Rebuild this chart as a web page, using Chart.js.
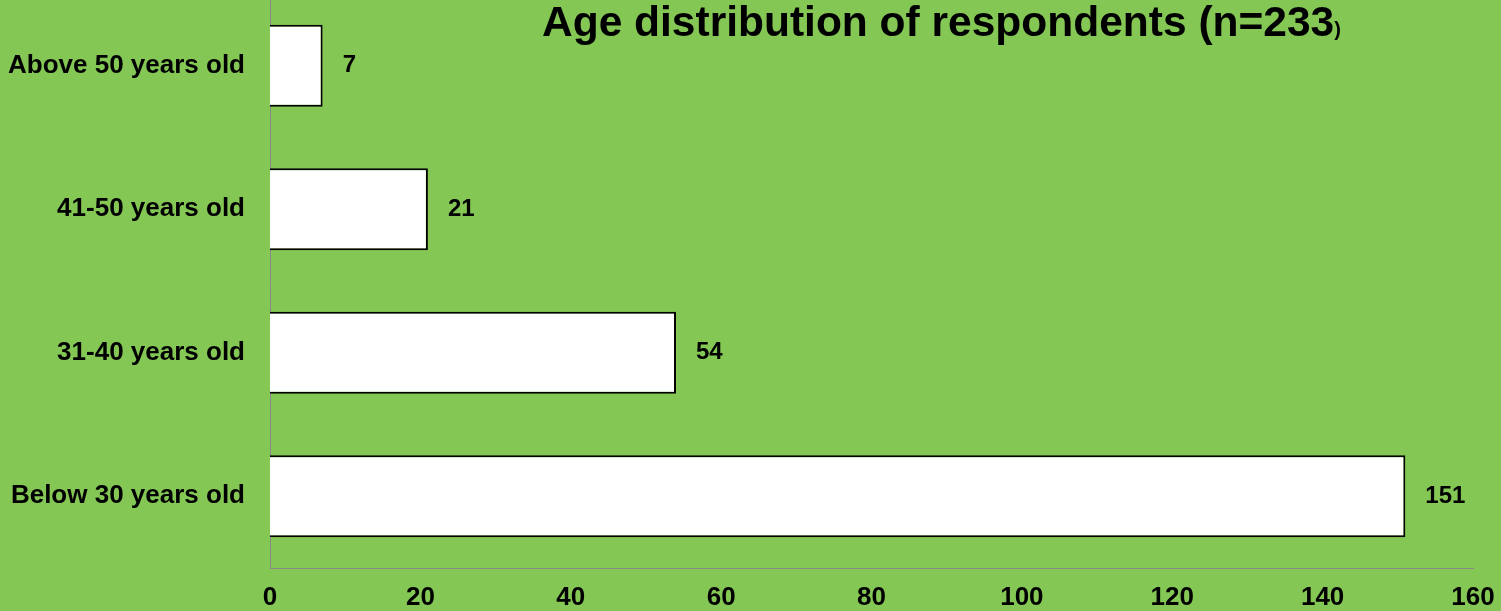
<!DOCTYPE html>
<html>
<head>
<meta charset="utf-8">
<script src="https://cdn.jsdelivr.net/npm/chart.js@4"></script>
<style>
    html, body { margin: 0; padding: 0; }
    body { width: 1501px; height: 611px; background: #84c754; position: relative; overflow: hidden; }
    #wrap { position: absolute; left: 0; top: -6px; width: 1501px; height: 617px; }
    #title {
        position: absolute; left: 542px; top: 1px;
        font-family: "Liberation Sans", Arial, sans-serif; font-weight: bold; font-size: 42.5px; line-height: 1;
        color: #000; white-space: nowrap;
    }
    #title small { font-size: 20px; }
</style>
</head>
<body>
<div id="wrap"><canvas id="ageChart" width="1501" height="617"></canvas></div>
<div id="title">Age distribution of respondents (n=233<small>)</small></div>

<script>
let ageGroups = ["Above 50 years old", "41-50 years old", "31-40 years old", "Below 30 years old"];
let respondents = [7, 21, 54, 151];
let xTicks = [0, 20, 40, 60, 80, 100, 120, 140, 160];

let labelFont = {family: "'Liberation Sans', Arial, sans-serif", size: 26, weight: "bold"};

// VALUE LABELS NEXT TO BARS
const valueLabels = {
    id: "valueLabels",
    afterDatasetsDraw(chart) {
        let ctx = chart.ctx;
        let meta = chart.getDatasetMeta(0);
        ctx.save();
        ctx.font = "bold 24px 'Liberation Sans', Arial, sans-serif";
        ctx.fillStyle = "#000";
        ctx.textAlign = "left";
        ctx.textBaseline = "middle";
        meta.data.forEach((bar, i) => {
            ctx.fillText(respondents[i], bar.x + 20, bar.y);
        });
        ctx.restore();
    }
};

// no extra room for tick labels at the ends of the axes
function noEdgePadding(axis) {
    axis.paddingTop = 0;
    axis.paddingBottom = 0;
    axis.paddingLeft = 0;
    axis.paddingRight = 0;
}

new Chart(document.getElementById("ageChart"), {
    type: "bar",
    data: {
        labels: ageGroups,
        datasets: [{
            data: respondents,
            backgroundColor: "#ffffff",
            borderColor: "#000000",
            borderWidth: 2,
            barPercentage: 0.571,
            categoryPercentage: 1
        }]
    },
    options: {
        indexAxis: "y",
        responsive: false,
        animation: false,
        layout: {padding: {top: 0, right: 28, bottom: 0, left: 0}},
        plugins: {legend: {display: false}, tooltip: {enabled: false}, title: {display: false}},
        scales: {
            x: {
                min: 0,
                max: 160,
                afterBuildTicks: axis => { axis.ticks = xTicks.map(v => ({value: v})); },
                grid: {display: false, drawTicks: false},
                border: {display: true, color: "#8a8a8a", width: 1},
                ticks: {color: "#000", font: labelFont, padding: 14, maxRotation: 0},
                afterFit: axis => { axis.height = 43; noEdgePadding(axis); }
            },
            y: {
                grid: {display: false, drawTicks: false},
                border: {display: true, color: "#8a8a8a", width: 1},
                ticks: {color: "#000", font: labelFont, padding: 25},
                afterFit: axis => { axis.width = 270; noEdgePadding(axis); }
            }
        }
    },
    plugins: [valueLabels]
});
</script>
</body>
</html>
